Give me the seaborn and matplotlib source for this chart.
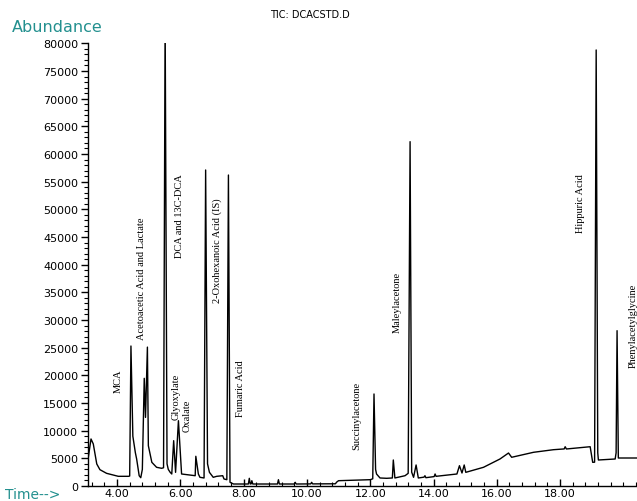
import matplotlib
matplotlib.use("Agg")
import matplotlib.pyplot as plt
from matplotlib.ticker import MultipleLocator, FixedLocator, FormatStrFormatter
import seaborn as sns
import pandas as pd

# Total ion chromatogram trace: retention time (min) and abundance
time_min = [
    3.083, 3.178, 3.25, 3.36, 3.46, 3.67, 4.04, 4.36,
    4.40, 4.44, 4.50, 4.58, 4.62, 4.70, 4.75, 4.80, 4.86, 4.90, 4.96, 4.99,
    5.10, 5.25, 5.41, 5.47, 5.52, 5.58, 5.62, 5.68, 5.73, 5.79, 5.85, 5.94,
    6.04, 6.47, 6.49, 6.57, 6.62, 6.75, 6.80, 6.86, 6.92, 7.04, 7.15, 7.34,
    7.38, 7.47, 7.52, 7.57, 7.68, 8.15, 8.18, 8.21, 8.24, 8.26, 8.29,
    9.07, 9.10, 9.13, 9.60, 9.63, 9.66, 10.12, 10.15, 10.18, 10.90, 10.94,
    11.00, 12.00, 12.08, 12.12, 12.17, 12.20, 12.31, 12.52, 12.70, 12.73,
    12.78, 13.10, 13.20, 13.26, 13.31, 13.37, 13.45, 13.52, 13.70, 13.73,
    13.76, 14.02, 14.05, 14.08, 14.74, 14.82, 14.90, 14.97, 15.02, 15.58,
    16.10, 16.37, 16.47, 17.16, 17.79, 18.13, 18.16, 18.20, 18.95, 19.03,
    19.09, 19.14, 19.19, 19.21, 19.74, 19.77, 19.80, 19.84, 20.43,
]
abundance = [
    4800, 8500, 7600, 3980, 2950, 2290, 1750, 1750,
    1800, 25300, 9000, 6000, 4880, 1860, 1500, 3000, 19460, 12400, 25100, 7280,
    4280, 3380, 3200, 3300, 85000, 4000, 3000, 2470, 2170, 8190, 2470, 11800,
    2170, 1860, 5370, 2170, 1570, 1450, 57110, 4000, 2470, 1570, 1750, 1860,
    1270, 1140, 56200, 670, 360, 360, 1390, 360, 400, 960, 360,
    360, 1140, 360, 360, 670, 360, 380, 670, 380, 400, 700,
    960, 1140, 1300, 16630, 3000, 2170, 1450, 1390, 1450, 4700,
    1450, 1860, 2290, 62230, 2500, 1570, 3800, 1450, 1600, 1860,
    1500, 1700, 2170, 1750, 2170, 3670, 2350, 3800, 2470, 3380,
    4880, 5960, 5190, 6090, 6560, 6700, 7100, 6690, 7100, 4280,
    4300, 78800, 6000, 4700, 4880, 6000, 28070, 5060, 5060,
]

# Compound annotations: label text, retention time, baseline abundance of the text
peak_names = [
    "MCA", "Acetoacetic Acid and Lactate", "Glyoxylate", "Oxalate",
    "DCA and 13C-DCA", "2-Oxohexanoic Acid (IS)", "Fumaric Acid",
    "Succinylacetone", "Maleylacetone", "Hippuric Acid", "Phenylacetylglycine",
]
label_time = [4.03, 4.76, 5.865, 6.21, 5.96, 7.16, 7.89, 11.585, 12.85, 18.63, 20.31]
label_base = [17000, 26570, 12100, 9940, 41390, 33250, 12650, 6690, 27830, 45900, 21500]

x_ticks = [4, 6, 8, 10, 12, 14, 16, 18]

sns.set_style("white")
plt.rcParams["font.family"] = ["DejaVu Sans"]

teal = "#23908f"
fig = plt.figure(figsize=(6.37, 5.02), dpi=100)
ax = fig.add_axes([88 / 637, 15 / 502, (637 - 88) / 637, 443 / 502])

df = pd.DataFrame({"time": time_min, "abundance": abundance})
sns.lineplot(data=df, x="time", y="abundance", ax=ax, color="black",
             linewidth=1.0, sort=False, estimator=None)

ax.set_xlim(3.083, 20.43)
ax.set_ylim(0, 80060)
ax.set_xlabel("")
ax.set_ylabel("")

for s in ("top", "right"):
    ax.spines[s].set_visible(False)
for s in ("left", "bottom"):
    ax.spines[s].set_color("black")
    ax.spines[s].set_linewidth(1.0)

ax.xaxis.set_major_locator(FixedLocator(x_ticks))
ax.xaxis.set_minor_locator(MultipleLocator(0.4))
ax.xaxis.set_major_formatter(FormatStrFormatter("%.2f"))
ax.yaxis.set_major_locator(MultipleLocator(5000))
ax.yaxis.set_minor_locator(MultipleLocator(1000))
ax.yaxis.set_major_formatter(FormatStrFormatter("%d"))

# y ticks point outward, x ticks sit on top of the time axis
ax.tick_params(axis="y", which="major", direction="out", length=5, width=1,
               color="black", labelsize=8, labelcolor="black", pad=2, left=True)
ax.tick_params(axis="y", which="minor", direction="out", length=3, width=0.8,
               color="black", left=True)
ax.tick_params(axis="x", which="major", direction="in", length=5, width=1,
               color="black", labelsize=8, labelcolor="black", pad=1.5, bottom=True)
ax.tick_params(axis="x", which="minor", direction="in", length=3, width=0.8,
               color="black", bottom=True)

for name, t, base in zip(peak_names, label_time, label_base):
    ax.text(t, base, name, rotation=90, ha="center", va="bottom",
            fontsize=7.5, family="Liberation Serif", color="black", clip_on=False)

fig.text(12 / 637, 1 - 27 / 502, "Abundance", color=teal, fontsize=11.5,
         ha="left", va="center")
fig.text(5 / 637, 1 - 495 / 502, "Time-->", color=teal, fontsize=10,
         ha="left", va="center")
fig.text(310 / 637, 1 - 15 / 502, "TIC: DCACSTD.D", color="black", fontsize=7,
         ha="center", va="center")

fig.savefig("out.png", dpi=100)
